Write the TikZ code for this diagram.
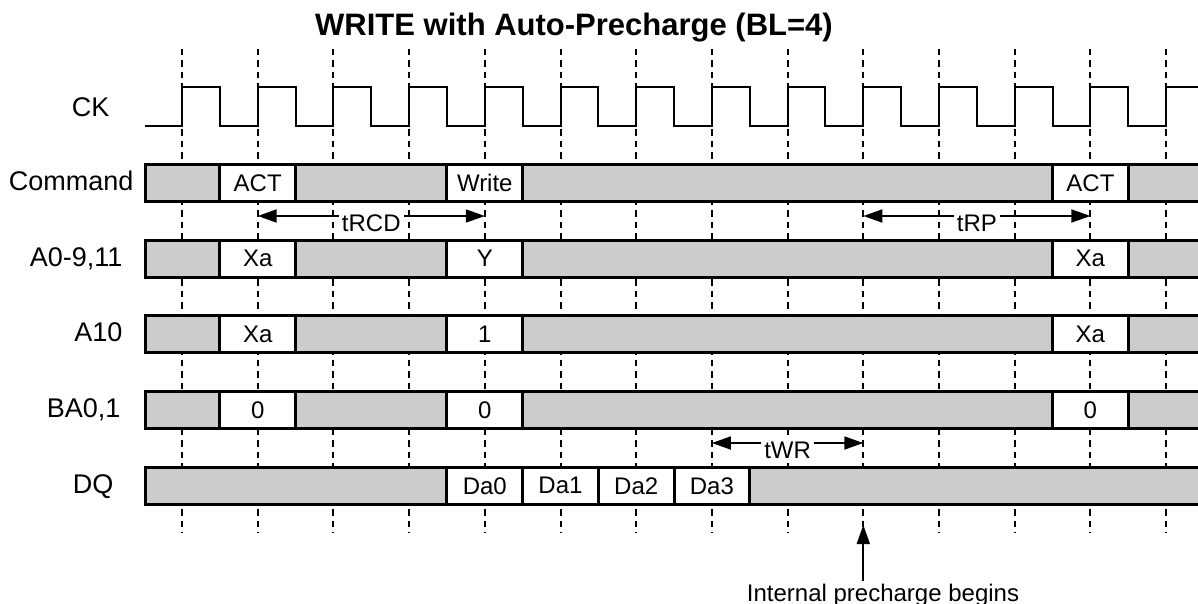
\documentclass[tikz,border=0pt]{standalone}
\usepackage{fontspec}
\setmainfont{Liberation Sans}
\usetikzlibrary{arrows.meta}

\definecolor{idlegray}{HTML}{CCCCCC}

\tikzset{
  rowlbl/.style={anchor=base east, font=\fontsize{27}{30}\selectfont},
  cell/.style={draw, fill=white, line width=3pt, minimum width=75.7pt, minimum height=37pt, inner sep=0pt, font=\fontsize{24}{26}\selectfont},
  bus/.style={draw, fill=idlegray, line width=3pt},
  tick/.style={dash pattern=on 6.5pt off 5pt, line width=2pt},
  span/.style={<->, line width=1.8pt},
  spanlbl/.style={anchor=base, yshift=-15pt, fill=white, inner xsep=3pt, inner ysep=1pt, text depth=0.25em, font=\fontsize{24}{26}\selectfont},
}

\begin{document}
\begin{tikzpicture}[x=1pt, y=-1pt, >={Triangle[length=19pt,width=13pt]}]
		% 1. page frame
		\useasboundingbox (0,0) rectangle (1198,604);
		\clip (0,0) rectangle (1198,604);
		
		\def\T{75.7}  % clock period
		\def\xo{182}  % first rising edge
		\def\bl{145}  % left end of the bus bars
		
		% 2. title
		\node[anchor=base, font=\bfseries\fontsize{31}{34}\selectfont] (title) at (574,36) {WRITE with Auto-Precharge (BL=4)};
		
		% 3. clock edge guides
		\foreach \k in {0,...,13}
			\draw[tick] ({\xo+\k*\T},49) -- ({\xo+\k*\T},533);
		
		% 4. clock
		\node[rowlbl] (ck) at (113,117) {CK};
		\draw[line width=2pt] (\bl,126) -- (\xo,126)
			\foreach \k in {0,...,12} { -- ({\xo+\k*\T},87) -- ({\xo+(\k+0.5)*\T},87) -- ({\xo+(\k+0.5)*\T},126) -- ({\xo+(\k+1)*\T},126) }
			-- ({\xo+13*\T},87) -- (1210,87);
		
		% 5. Command
		\node[rowlbl] (cmd) at (137,190.5) {Command};
		\draw[bus] (1210,164.5) -- (\bl,164.5) -- (\bl,201.5) -- (1210,201.5);
		\node[cell] (cmdAct) at ({\xo+1*\T},183) {ACT};
		\node[cell] (cmdWr) at ({\xo+4*\T},183) {Write};
		\node[cell] (cmdAct2) at ({\xo+12*\T},183) {ACT};
		
		% 6. tRCD and tRP
		\coordinate (rcdA) at ({\xo+1*\T},216);
		\coordinate (rcdB) at ({\xo+4*\T},216);
		\draw[span] (rcdA) -- node[spanlbl] (trcd) {tRCD} (rcdB);
		\coordinate (rpA) at ({\xo+9*\T},216);
		\coordinate (rpB) at ({\xo+12*\T},216);
		\draw[span] (rpA) -- node[spanlbl] (trp) {tRP} (rpB);
		
		% 7. A0-9,11
		\node[rowlbl] (addr) at (126,266.2) {A0-9,11};
		\draw[bus] (1210,240.2) -- (\bl,240.2) -- (\bl,277.2) -- (1210,277.2);
		\node[cell] (addrX) at ({\xo+1*\T},258.7) {Xa};
		\node[cell] (addrY) at ({\xo+4*\T},258.7) {Y};
		\node[cell] (addrX2) at ({\xo+12*\T},258.7) {Xa};
		
		% 8. A10
		\node[rowlbl] (aten) at (126,341.9) {A10};
		\draw[bus] (1210,315.9) -- (\bl,315.9) -- (\bl,352.9) -- (1210,352.9);
		\node[cell] (atenX) at ({\xo+1*\T},334.4) {Xa};
		\node[cell] (atenOne) at ({\xo+4*\T},334.4) {1};
		\node[cell] (atenX2) at ({\xo+12*\T},334.4) {Xa};
		
		% 9. BA0,1
		\node[rowlbl] (bank) at (124,417.6) {BA0,1};
		\draw[bus] (1210,391.6) -- (\bl,391.6) -- (\bl,428.6) -- (1210,428.6);
		\node[cell] (bankA) at ({\xo+1*\T},410.1) {0};
		\node[cell] (bankB) at ({\xo+4*\T},410.1) {0};
		\node[cell] (bankC) at ({\xo+12*\T},410.1) {0};
		
		% 10. tWR
		\coordinate (wrA) at ({\xo+7*\T},443);
		\coordinate (wrB) at ({\xo+9*\T},443);
		\draw[span] (wrA) -- node[spanlbl] (twr) {tWR} (wrB);
		
		% 11. DQ
		\node[rowlbl] (dq) at (117,493.3) {DQ};
		\draw[bus] (1210,467.3) -- (\bl,467.3) -- (\bl,504.3) -- (1210,504.3);
		\node[cell] (da0) at ({\xo+4*\T},485.8) {Da0};
		\node[cell] (da1) at ({\xo+5*\T},485.8) {Da1};
		\node[cell] (da2) at ({\xo+6*\T},485.8) {Da2};
		\node[cell] (da3) at ({\xo+7*\T},485.8) {Da3};
		
		% 12. precharge marker
		\node[anchor=base, inner sep=2pt, font=\fontsize{24}{26}\selectfont] (pre) at (883,601) {Internal precharge begins};
		\coordinate (preTip) at ({\xo+9*\T},525);
		\draw[->, line width=1.8pt] (pre.north -| preTip) -- (preTip);
		
	\end{tikzpicture}
\end{document}
